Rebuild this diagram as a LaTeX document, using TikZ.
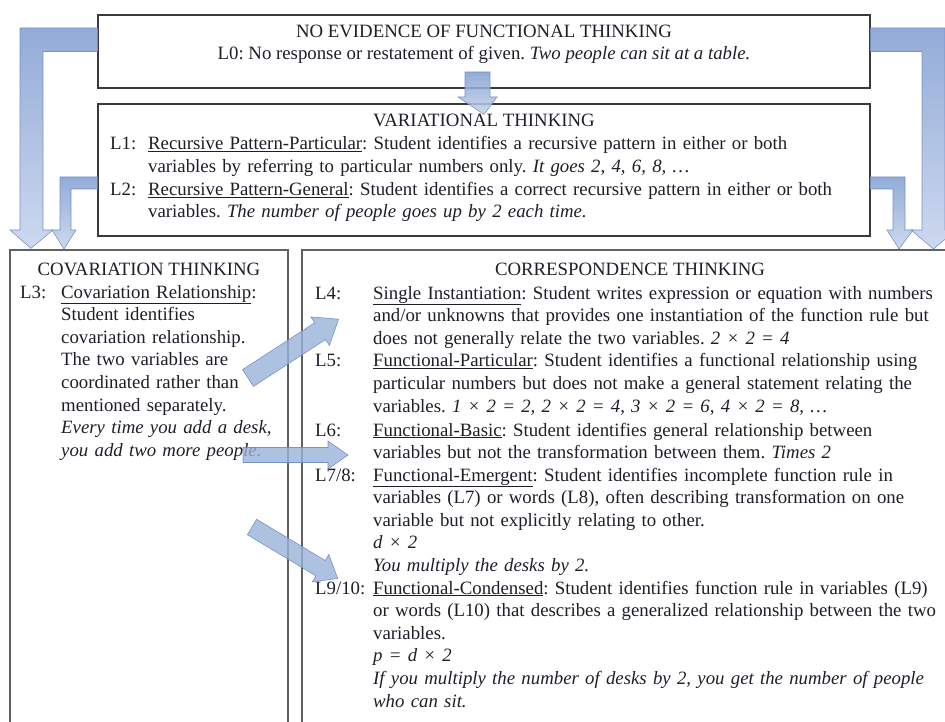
\documentclass[tikz,border=0pt]{standalone}
\usepackage{fontspec}
\setmainfont{Liberation Serif}
\usetikzlibrary{calc}
\definecolor{ArrowBlue}{HTML}{809DD0}
\definecolor{ArrowPale}{HTML}{C4D2EC}
\definecolor{ArrowEdge}{HTML}{6C8CC4}
\definecolor{BoxLine}{HTML}{3A3A3A}
\definecolor{InkText}{HTML}{1E1E28}

% tail point, angle, length, shaft half width, head half width, head length
\newcommand{\slantarrow}[6]{%
  \begin{scope}[shift={(#1)},rotate=#2]
    \path[thinarrow] (0,-#4) -- (#3-#6,-#4) -- (#3-#6,-#5) -- (#3,0)
      -- (#3-#6,#5) -- (#3-#6,#4) -- (0,#4) -- cycle;
  \end{scope}}

\begin{document}
\frenchspacing
\begin{tikzpicture}[
  x=1pt,y=-1pt,
  every node/.style={font=\fontsize{18.8}{22.6}\selectfont,text=InkText},
  box/.style={draw=BoxLine,line width=1.2pt,inner sep=0pt},
  title/.style={anchor=base,inner sep=0pt},
  lab/.style={anchor=base west,inner sep=0pt},
  body/.style={anchor=base west,inner sep=0pt,text width=720pt,align=left},
  bigarrow/.style={draw=ArrowEdge,line width=0.6pt,top color=ArrowBlue,bottom color=ArrowPale,fill opacity=0.85,draw opacity=0.9},
  thinarrow/.style={draw=ArrowEdge,line width=0.6pt,fill=ArrowBlue!80!white,fill opacity=0.8,draw opacity=0.9}
]
\useasboundingbox (0,0) rectangle (945,722);
\clip (0,0) rectangle (945,722);

% boxes
\node[box,minimum width=772pt,minimum height=73pt] (noev) at (484,51.5) {};
\node[box,minimum width=772pt,minimum height=132pt] (vart) at (484,170) {};
\node[box,draw=BoxLine!80,minimum width=278pt,minimum height=490pt] (covar) at (149,495) {};
\node[box,draw=BoxLine!80,minimum width=660pt,minimum height=490pt] (corresp) at (632,495) {};

% no evidence
\node[title] (noevtitle) at (484,38) {NO EVIDENCE OF FUNCTIONAL THINKING};
\node[title] (lzero) at (484,60) {L0: No response or restatement of given. \textit{Two people can sit at a table.}};

% variational
\node[title] (vartitle) at (484,127) {VARIATIONAL THINKING};
\node[lab] (lone) at (110,150) {L1:};
\node[body] (lonetext) at (148,150) {\underline{Recursive Pattern-Particular}: Student identifies a recursive pattern in either or both\\
  variables by referring to particular numbers only. \textit{It goes 2, 4, 6, 8, …}};
\node[lab] (ltwo) at (110,195.2) {L2:};
\node[body] (ltwotext) at (148,195.2) {\underline{Recursive Pattern-General}: Student identifies a correct recursive pattern in either or both\\
  variables. \textit{The number of people goes up by 2 each time.}};

% covariation
\node[title] (covtitle) at (149,276) {COVARIATION THINKING};
\node[lab] (lthree) at (20,298) {L3:};
\node[body] (lthreetext) at (61,298) {\underline{Covariation Relationship}:\\
  Student identifies\\
  covariation relationship.\\
  The two variables are\\
  coordinated rather than\\
  mentioned separately.\\
  \textit{Every time you add a desk,}\\
  \textit{you add two more people.}};

% correspondence
\node[title] (corrtitle) at (630,276) {CORRESPONDENCE THINKING};
\node[lab] (lfour) at (315,299) {L4:};
\node[body] (lfourtext) at (373,299) {\underline{Single Instantiation}: Student writes expression or equation with numbers\\
  and/or unknowns that provides one instantiation of the function rule but\\
  does not generally relate the two variables. \textit{2 × 2 = 4}};
\node[lab] (lfive) at (315,366.8) {L5:};
\node[body] (lfivetext) at (373,366.8) {\underline{Functional-Particular}: Student identifies a functional relationship using\\
  particular numbers but does not make a general statement relating the\\
  variables. \textit{1 × 2 = 2, 2 × 2 = 4, 3 × 2 = 6, 4 × 2 = 8, …}};
\node[lab] (lsix) at (315,436) {L6:};
\node[body] (lsixtext) at (373,436) {\underline{Functional-Basic}: Student identifies general relationship between\\
  variables but not the transformation between them. \textit{Times 2}};
\node[lab] (lseven) at (315,481) {L7/8:};
\node[body] (lseventext) at (373,481) {\underline{Functional-Emergent}: Student identifies incomplete function rule in\\
  variables (L7) or words (L8), often describing transformation on one\\
  variable but not explicitly relating to other.\\
  \textit{d × 2}\\
  \textit{You multiply the desks by 2.}};
\node[lab] (lnine) at (315,594) {L9/10:};
\node[body] (lninetext) at (373,594) {\underline{Functional-Condensed}: Student identifies function rule in variables (L9)\\
  or words (L10) that describes a generalized relationship between the two\\
  variables.\\
  \textit{p = d × 2}\\
  \textit{If you multiply the number of desks by 2, you get the number of people}\\
  \textit{who can sit.}};

% block arrows between the boxes
\path[bigarrow] ([yshift=23.5pt]noev.west) -- (20,28) -- (20,230) -- (10,230)
  -- ([xshift=21.5pt,yshift=1pt]covar.north west) -- (53,230) -- (43,230) -- (43,51.5) -- (noev.west) -- cycle;
\path[bigarrow] ([yshift=23.5pt]noev.east) -- (945,28) -- (945,230) -- (956,230)
  -- (933.5,249) -- (911,230) -- (922,230) -- (922,51.5) -- (noev.east) -- cycle;
\path[bigarrow] ([yshift=-7pt]vart.west) -- (60,177) -- (60,230) -- (52,230)
  -- (64,249) -- (76,230) -- (71,230) -- (71,189) -- ([yshift=-19pt]vart.west) -- cycle;
\path[bigarrow] ([yshift=-7pt]vart.east) -- (905,177) -- (905,230) -- (913,230)
  -- (899,249) -- (887,230) -- (893,230) -- (893,189) -- ([yshift=-19pt]vart.east) -- cycle;
\path[bigarrow] (465,72) -- (490,72) -- (490,97) -- (497,97)
  -- ([yshift=-11pt]vart.north) -- (458,97) -- (465,97) -- cycle;

% arrows from covariation to correspondence
\slantarrow{248,378}{33}{108}{10}{17}{22}
\slantarrow{243,455}{0}{105}{7.5}{14}{20}
\slantarrow{252,527}{-31}{100}{9}{16}{20}
\end{tikzpicture}
\end{document}
